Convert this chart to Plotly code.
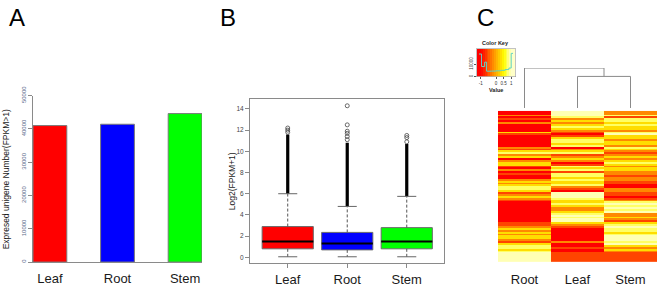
import plotly.graph_objects as go

W, H = 660, 287
FONT = "Liberation Sans, Arial, sans-serif"


def fx(px):
    return px / W


def fy(py):
    return 1 - py / H


# ---------------- Panel A data ----------------
tissues_a = ["Leaf", "Root", "Stem"]
expressed_counts = [41000, 41400, 44600]
bar_colors = ["#FF0000", "#0000FF", "#00FF00"]
count_ticks = [0, 10000, 20000, 30000, 40000, 50000]

# ---------------- Panel B data ----------------
tissues_b = ["Leaf", "Root", "Stem"]
box_q1 = [0.8, 0.7, 0.8]
box_median = [1.5, 1.3, 1.5]
box_q3 = [2.9, 2.35, 2.8]
whisker_low = [0.05, 0.05, 0.05]
whisker_high = [6.0, 4.8, 5.75]
dense_outlier_top = [11.6, 10.8, 10.7]
sparse_outliers = [
    [11.8, 12.0, 12.2],
    [11.1, 11.4, 11.7, 11.9, 12.5, 14.3],
    [10.9, 11.3, 11.5],
]
log_ticks = [0, 2, 4, 6, 8, 10, 12, 14]

# ---------------- Panel C data ----------------
heat_columns = ["Root", "Leaf", "Stem"]
root_vals = [
    -1, -1, -0.2, -1, -0.6, -1, -0.2, -1, -1, -1,
    -1, 0.3, -0.6, -1, -1, -1, -1, -1, -1, -0.2,
    -0.6, 0.3, 0.75, -0.2, 0.3, -1, -0.2, 0.3, 0.3, -0.6,
    -1, -0.2, -1, -0.6, -1, -1, -0.2, 0.3, -0.2, 0.3,
    0.75, 0.75, 0.3, -0.6, -0.2, 0.3, -0.2, -0.6, -1, -1,
    -1, -1, -1, -1, -1, -1, -1, -1, -1, -0.6,
    -0.6, -0.2, 0.3, -0.2, 0.3, -0.2, 0.3, 0.3, -0.2, -0.6,
    0.3, 0.75, 0.75, 0.3, 0.75, 0.95, 0.95, 0.95, 0.95, 0.95,
]
leaf_vals = [
    0.95, 0.95, 0.95, 0.75, -0.2, 0.3, -0.2, 0.3, 0.75, 0.3,
    -0.2, -0.6, -1, -0.6, 0.3, 0.75, 0.75, 0.3, 0.75, -1,
    -0.2, 0.3, 0.75, -0.6, -0.2, 0.3, -0.2, -1, -0.6, 0.75,
    0.3, 0.75, -0.6, 0.75, 0.75, 0.3, 0.75, 0.3, 0.3, 0.75,
    -0.2, -0.6, -1, 0.95, 0.95, 0.95, 0.75, 0.3, 0.3, 0.75,
    0.3, -0.2, -0.2, 0.3, 0.75, 0.95, 0.75, 0.95, 0.95, 0.3,
    -0.2, -0.6, -1, -1, -1, -1, -1, -1, -1, -0.2,
    -1, -1, -0.6, -1, -1, -0.6, -0.6, -0.6, -0.6, -0.6,
]
stem_vals = [
    -0.2, -0.2, 0.75, -0.6, 0.75, 0.75, 0.3, 0.75, 0.3, 0.3,
    -0.2, 0.75, 0.95, 0.3, 0.3, -0.2, 0.3, 0.3, -0.2, 0.75,
    0.3, -0.2, -0.6, -0.2, 0.3, -0.2, 0.3, 0.75, 0.3, -0.2,
    0.3, 0.3, -0.2, -0.2, -0.6, -0.2, -0.2, -0.6, -0.6, -1,
    -1, -0.2, -0.2, -0.6, -0.6, -1, -0.6, -0.2, 0.75, 0.95,
    0.75, 0.95, 0.75, 0.95, -0.2, -0.2, 0.3, -0.2, -0.6, 0.3,
    0.75, 0.95, 0.75, 0.75, 0.3, 0.75, 0.95, 0.95, 0.95, 0.75,
    0.95, 0.3, -0.2, 0.3, -0.2, -0.6, -0.6, -0.6, -0.6, -0.6,
]
dendro_merge_heights = [0.79, 1.0]  # (Leaf,Stem) merge, then Root joins

key_values = [
    -1.1875, -1.0625, -0.9375, -0.8125, -0.6875, -0.5625, -0.4375,
    -0.3125, -0.1875, -0.0625, 0.0625, 0.1875, 0.3125, 0.4375,
    0.5625, 0.6875, 0.8125, 0.9375, 1.0625, 1.1875,
]
hist_edges = [-1.12, -0.95, -0.75, -0.62, -0.3, 0.0, 0.3, 0.6, 0.85, 1.0, 1.12]
hist_counts = [18000, 8000, 11500, 4300, 4400, 4600, 5000, 5600, 6800, 18500]
key_ticks = [-1, 0, 0.5, 1]
key_count_ticks = [0, 10000]

heat_scale = [
    [0.0, "#FF0000"],
    [0.375, "#FF8000"],
    [0.75, "#FFFF00"],
    [1.0, "#FFFFC8"],
]

fig = go.Figure()

# ---------- Panel A: bars ----------
fig.add_trace(go.Bar(
    x=tissues_a, y=expressed_counts, width=0.5,
    marker=dict(color=bar_colors, line=dict(color="#7a7a7a", width=1)),
    xaxis="x", yaxis="y", hoverinfo="skip",
))

# ---------- Panel B: boxplots ----------
pos_b = [1, 2, 3]
box_w = 0.86
fig.add_trace(go.Bar(
    x=pos_b, y=[q3 - q1 for q1, q3 in zip(box_q1, box_q3)], base=box_q1,
    width=box_w,
    marker=dict(color=bar_colors, line=dict(color="#6a6a6a", width=1)),
    xaxis="x2", yaxis="y2", hoverinfo="skip",
))
# whiskers (dashed)
wx, wy = [], []
for p, lo, q1, q3, hi in zip(pos_b, whisker_low, box_q1, box_q3, whisker_high):
    wx += [p, p, None, p, p, None]
    wy += [q3, hi, None, q1, lo, None]
fig.add_trace(go.Scatter(x=wx, y=wy, mode="lines",
                         line=dict(color="#555555", width=1, dash="3px,2px"),
                         xaxis="x2", yaxis="y2", hoverinfo="skip"))
# dense outliers (overlapping circles appear as a solid black column)
dx, dy = [], []
for p, hi, top in zip(pos_b, whisker_high, dense_outlier_top):
    dx += [p, p, None]
    dy += [hi, top, None]
fig.add_trace(go.Scatter(x=dx, y=dy, mode="lines",
                         line=dict(color="#000000", width=3.2),
                         xaxis="x2", yaxis="y2", hoverinfo="skip"))
# caps
cx, cy = [], []
for p, lo, hi in zip(pos_b, whisker_low, whisker_high):
    cx += [p - 0.16, p + 0.16, None, p - 0.16, p + 0.16, None]
    cy += [hi, hi, None, lo, lo, None]
fig.add_trace(go.Scatter(x=cx, y=cy, mode="lines",
                         line=dict(color="#666666", width=1),
                         xaxis="x2", yaxis="y2", hoverinfo="skip"))
# medians
mx, my = [], []
for p, m in zip(pos_b, box_median):
    mx += [p - box_w / 2, p + box_w / 2, None]
    my += [m, m, None]
fig.add_trace(go.Scatter(x=mx, y=my, mode="lines",
                         line=dict(color="#000000", width=2),
                         xaxis="x2", yaxis="y2", hoverinfo="skip"))
# sparse outliers
ox, oy = [], []
for p, pts in zip(pos_b, sparse_outliers):
    ox += [p] * len(pts)
    oy += pts
fig.add_trace(go.Scatter(x=ox, y=oy, mode="markers",
                         marker=dict(symbol="circle-open", size=4,
                                     color="#444444", line=dict(width=0.8)),
                         xaxis="x2", yaxis="y2", hoverinfo="skip"))

# ---------- Panel C: heatmap ----------
z = [[r, l, s] for r, l, s in zip(root_vals, leaf_vals, stem_vals)]
nrows = len(z)
fig.add_trace(go.Heatmap(
    z=z, x=[0, 1, 2], y=list(range(nrows)),
    colorscale=heat_scale, zmin=-1, zmax=1, showscale=False,
    xaxis="x3", yaxis="y3", hoverinfo="skip",
))

# dendrogram
h1, h2 = dendro_merge_heights
dxs = [1, 1, 2, 2, None, 1.5, 1.5, 0, 0]
dys = [0, h1, h1, 0, None, h1, h2, h2, 0]
fig.add_trace(go.Scatter(x=dxs, y=dys, mode="lines",
                         line=dict(color="#8a8a8a", width=1),
                         xaxis="x4", yaxis="y4", hoverinfo="skip"))

# colour key gradient + histogram
fig.add_trace(go.Heatmap(
    z=[key_values], x=key_values, y=[0, 22000],
    colorscale=heat_scale, zmin=-1, zmax=1, showscale=False,
    xaxis="x5", yaxis="y5", hoverinfo="skip",
))
fig.add_trace(go.Scatter(
    x=hist_edges, y=hist_counts + [hist_counts[-1]], mode="lines",
    line=dict(color="#5fd3c4", width=1, shape="hv"),
    xaxis="x5", yaxis="y5", hoverinfo="skip",
))

axis_common = dict(showgrid=False, zeroline=False, fixedrange=True)

fig.update_layout(
    width=W, height=H,
    margin=dict(l=0, r=0, t=0, b=0),
    paper_bgcolor="white", plot_bgcolor="rgba(0,0,0,0)",
    showlegend=False,
    font=dict(family=FONT, color="#1a1a1a"),
    bargap=0,
    # Panel A
    xaxis=dict(domain=[fx(33), fx(202)], range=[-0.25, 2.25], type="category",
               showline=True, linecolor="#8a8a8a", linewidth=1, ticks="",
               ticklabelstandoff=4,
               tickfont=dict(size=13, color="#1a1a1a"), **axis_common),
    yaxis=dict(domain=[fy(265), fy(90)], range=[0, 50000],
               showline=True, linecolor="#8a8a8a", linewidth=1,
               ticks="outside", ticklen=4, tickcolor="#8a8a8a",
               tickvals=count_ticks, ticktext=[str(v) for v in count_ticks],
               tickangle=-90, tickfont=dict(size=6, color="#5a6a8a"),
               **axis_common),
    # Panel B
    xaxis2=dict(domain=[fx(250), fx(444)], range=[0.366, 3.626],
                showline=True, mirror=True, linecolor="#8a8a8a", linewidth=1,
                ticks="outside", ticklen=4, tickcolor="#8a8a8a",
                tickvals=pos_b, ticktext=tissues_b,
                tickfont=dict(size=13, color="#1a1a1a"), anchor="y2",
                **axis_common),
    yaxis2=dict(domain=[fy(266), fy(94)], range=[-0.54, 14.9],
                showline=True, mirror=True, linecolor="#8a8a8a", linewidth=1,
                ticks="outside", ticklen=4, tickcolor="#8a8a8a",
                tickvals=log_ticks, tickfont=dict(size=6.5, color="#444444"),
                anchor="x2", **axis_common),
    # Panel C heatmap
    xaxis3=dict(domain=[fx(498), fx(657)], range=[-0.5, 2.5],
                tickvals=[0, 1, 2], ticktext=heat_columns, ticks="",
                ticklabelstandoff=8,
                tickfont=dict(size=13, color="#1a1a1a"), anchor="y3",
                showline=False, **axis_common),
    yaxis3=dict(domain=[fy(265), fy(106)], range=[nrows - 0.5, -0.5],
                showticklabels=False, ticks="", anchor="x3",
                showline=False, **axis_common),
    # dendrogram
    xaxis4=dict(domain=[fx(498), fx(657)], range=[-0.5, 2.5], visible=False,
                anchor="y4", **axis_common),
    yaxis4=dict(domain=[fy(103), fy(61)], range=[0, 1], visible=False,
                anchor="x4", **axis_common),
    # colour key
    xaxis5=dict(domain=[fx(477), fx(515)], range=[-1.25, 1.25],
                tickvals=key_ticks, ticktext=["-1", "0", "0.5", "1"],
                ticks="outside", ticklen=2, tickcolor="#555",
                tickfont=dict(size=4.5, color="#333"), anchor="y5",
                showline=True, mirror=True, linecolor="#999", linewidth=0.6,
                **axis_common),
    yaxis5=dict(domain=[fy(70), fy(41)], range=[0, 22000],
                tickvals=key_count_ticks, ticktext=["0", "10000"],
                ticks="outside", ticklen=2, tickcolor="#555", tickangle=-90,
                tickfont=dict(size=4.5, color="#333"), anchor="x5",
                showline=True, mirror=True, linecolor="#999", linewidth=0.6,
                **axis_common),
)

annotations = [
    dict(text="A", x=fx(16.5), y=1, yanchor="top", yshift=8,
         font=dict(size=24, color="#000")),
    dict(text="B", x=fx(228), y=1, yanchor="top", yshift=8,
         font=dict(size=24, color="#000")),
    dict(text="C", x=fx(485), y=1, yanchor="top", yshift=8,
         font=dict(size=24, color="#000")),
    dict(text="Expresed unigene Number(FPKM>1)", x=fx(6), y=fy(178),
         yanchor="middle", textangle=-90, font=dict(size=8.5, color="#1a1a1a")),
    dict(text="Log2(FPKM+1)", x=fx(232), y=fy(180), yanchor="middle",
         textangle=-90, font=dict(size=8.5, color="#1a1a1a")),
    dict(text="<b>Color Key</b>", x=fx(495), y=fy(35), yanchor="middle",
         font=dict(size=5.5, color="#222")),
    dict(text="<b>Value</b>", x=fx(496), y=fy(84), yanchor="middle",
         font=dict(size=5.5, color="#222")),
]
for a in annotations:
    a.update(xref="paper", yref="paper", showarrow=False, xanchor="center")
fig.update_layout(annotations=annotations)

fig.write_html(
    "out.html",
    config={"displayModeBar": False, "staticPlot": True},
    post_script="document.documentElement.style.margin='0';"
                "document.body.style.margin='0';"
                "document.body.style.padding='0';"
                "document.body.style.overflow='hidden';",
)
